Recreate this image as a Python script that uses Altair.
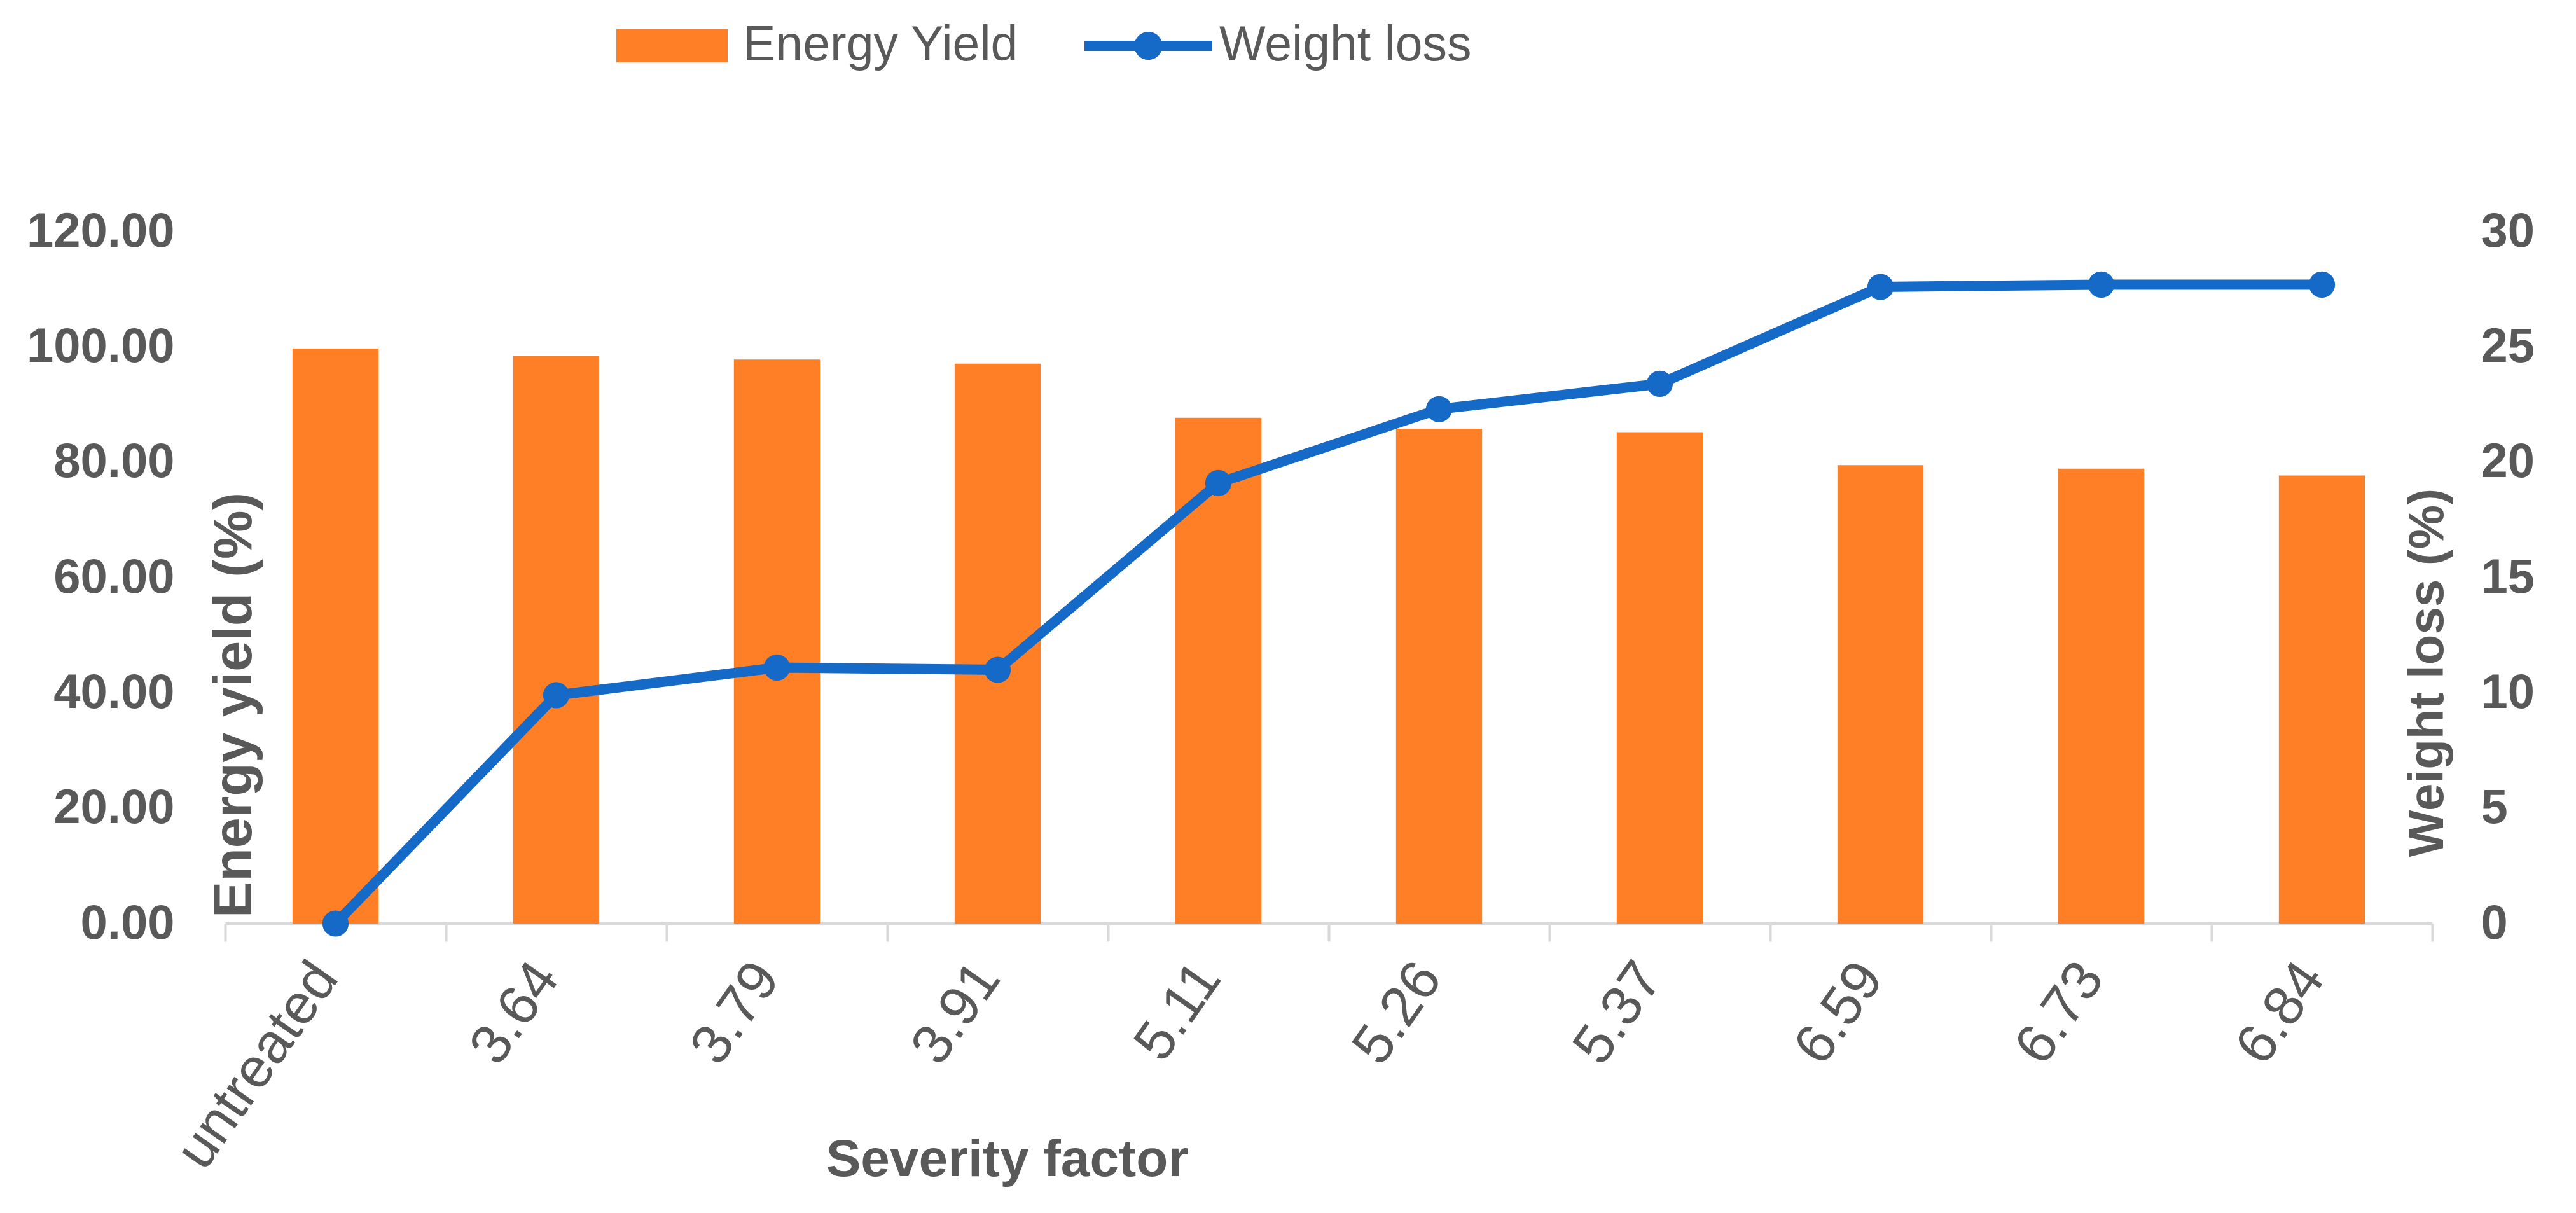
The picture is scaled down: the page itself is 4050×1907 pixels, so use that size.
import altair as alt
import pandas as pd

categories = ["untreated", "3.64", "3.79", "3.91", "5.11", "5.26", "5.37", "6.59", "6.73", "6.84"]
energy_yield = [99.7, 98.4, 97.8, 97.1, 87.7, 85.8, 85.2, 79.5, 78.9, 77.7]
weight_loss = [0.0, 9.9, 11.1, 11.0, 19.1, 22.3, 23.4, 27.6, 27.7, 27.7]
left_ticks = [0, 20, 40, 60, 80, 100, 120]
right_ticks = [0, 5, 10, 15, 20, 25, 30]

df = pd.DataFrame({
    "cat": categories,
    "energy": energy_yield,
    "weight": weight_loss,
    "s1": ["Energy Yield"] * len(categories),
    "s2": ["Weight loss"] * len(categories),
})

ORANGE = "#FF7F27"
BLUE = "#1569C7"
GRAY = "#595959"
LIGHT = "#D9D9D9"
FONT = "Liberation Sans"

x_enc = alt.X(
    "cat:N", sort=categories, title="Severity factor",
    scale=alt.Scale(paddingInner=0, paddingOuter=0),
    axis=alt.Axis(
        labelAngle=-55, labelAlign="right", labelBaseline="middle",
        labelFontSize=88, labelFont=FONT, labelColor=GRAY, labelPadding=43,
        labelOffset=-15, labelOverlap=False, labelLimit=0,
        tickBand="extent", ticks=True, tickSize=28, tickColor=LIGHT, tickWidth=4,
        domainColor=LIGHT, domainWidth=5, grid=False,
        titleFont=FONT, titleFontSize=82, titleFontWeight="bold", titleColor=GRAY,
        titleX=1229, titleY=396, titleAlign="center", titleBaseline="alphabetic",
    ),
)

y_left = alt.Y(
    "energy:Q", scale=alt.Scale(domain=[0, 120]),
    axis=alt.Axis(
        orient="left", values=left_ticks, format=".2f",
        domain=False, ticks=False, grid=False,
        labelFontSize=76, labelFontWeight="bold", labelFont=FONT, labelColor=GRAY,
        labelPadding=80, labelLimit=0,
        title="Energy yield (%)", titleFont=FONT, titleFontSize=86,
        titleFontWeight="bold", titleColor=GRAY, titleAngle=270,
        titleX=40, titleY=744, titleAlign="center", titleBaseline="alphabetic",
        titleLimit=0,
    ),
)

y_right = alt.Y(
    "weight:Q", scale=alt.Scale(domain=[0, 30]),
    axis=alt.Axis(
        orient="right", values=right_ticks, format="d",
        domain=False, ticks=False, grid=False,
        labelFontSize=76, labelFontWeight="bold", labelFont=FONT, labelColor=GRAY,
        labelPadding=76, labelLimit=0,
        title="Weight loss (%)", titleFont=FONT, titleFontSize=78,
        titleFontWeight="bold", titleColor=GRAY, titleAngle=270,
        titleX=16, titleY=693, titleAlign="center", titleBaseline="alphabetic",
        titleLimit=0,
    ),
)

bars = alt.Chart(df).mark_bar(width=alt.RelativeBandSize(0.39)).encode(
    x=x_enc,
    y=y_left,
    fill=alt.Fill(
        "s1:N",
        scale=alt.Scale(domain=["Energy Yield"], range=[ORANGE]),
        legend=alt.Legend(
            orient="none", legendX=615, legendY=-379.5, title=None,
            symbolType="M-1,-0.3H1V0.3H-1Z", symbolSize=30625,
            symbolStrokeWidth=0, symbolOpacity=1,
            labelFontSize=77, labelFont=FONT, labelColor=GRAY, labelLimit=0,
            labelOffset=24, padding=0,
        ),
    ),
)

line = alt.Chart(df).mark_line(strokeWidth=16, color=BLUE).encode(
    x=x_enc,
    y=y_right,
)

points = alt.Chart(df).mark_circle(size=1700, opacity=1).encode(
    x=x_enc,
    y=y_right,
    fill=alt.Fill(
        "s2:N",
        scale=alt.Scale(domain=["Weight loss"], range=[BLUE]),
        legend=alt.Legend(
            orient="none", legendX=1351, legendY=-392.5, title=None,
            symbolType="M-1,-0.08H1V0.08H-1Z M-0.22,0A0.22,0.22,0,1,1,0.22,0A0.22,0.22,0,1,1,-0.22,0Z",
            symbolSize=40401, symbolStrokeWidth=0, symbolOpacity=1,
            labelFontSize=77, labelFont=FONT, labelColor=GRAY, labelLimit=0,
            labelOffset=11, padding=0,
        ),
    ),
)

chart = alt.layer(bars, alt.layer(line, points)).resolve_scale(
    y="independent", fill="independent"
).properties(
    width=3470, height=1088,
    padding={"left": 346, "top": 356, "right": 210, "bottom": 440},
    autosize=alt.AutoSizeParams(type="none"),
    background="white",
).configure_view(stroke=None)

chart.save("out.html", embed_options={"renderer": "svg", "actions": False})
